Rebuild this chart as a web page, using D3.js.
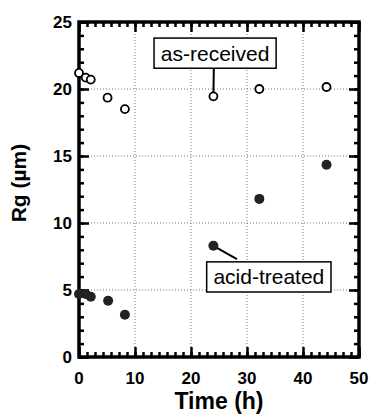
<!DOCTYPE html>
<html>
<head>
<meta charset="utf-8">
<script src="https://cdn.jsdelivr.net/npm/d3@7"></script>
<style>
  body { margin: 0; background: #fff; }
  svg { display: block; font-family: "Liberation Sans", Arial, sans-serif; }
  .axis path { display: none; }
  .axis line { stroke: #000; stroke-width: 2.5px; }
  .axis text { display: none; }
</style>
</head>
<body>
<svg width="372" height="415"></svg>
<script>
// as-received (open) and acid-treated (filled), time in h, Rg in um
var receivedTime = [0, 1.2, 2.1, 5.1, 8.2, 24, 32.2, 44.2];
var receivedRg   = [21.2, 20.85, 20.7, 19.35, 18.5, 19.45, 20.0, 20.15];
var treatedTime  = [0, 1.2, 2.1, 5.2, 8.2, 24, 32.2, 44.2];
var treatedRg    = [4.7, 4.7, 4.5, 4.2, 3.15, 8.3, 11.8, 14.35];
var xTicks = [0, 10, 20, 30, 40, 50];
var yTicks = [0, 5, 10, 15, 20, 25];

var svg = d3.select("svg"),
    margin = {top: 22, right: 13, bottom: 58, left: 79},
    width = +svg.attr("width") - margin.left - margin.right,
    height = +svg.attr("height") - margin.top - margin.bottom;

var x = d3.scaleLinear().domain([0, 50]).range([0, width]),
    y = d3.scaleLinear().domain([0, 25]).range([height, 0]);

var g = svg.append("g")
    .attr("transform", "translate(" + margin.left + "," + margin.top + ")");

// dotted grid at the inner majors
g.append("g").selectAll("line").data(xTicks.slice(1, -1)).enter().append("line")
    .attr("x1", function(d) { return x(d); }).attr("x2", function(d) { return x(d); })
    .attr("y1", 0).attr("y2", height)
    .attr("stroke", "#777").attr("stroke-width", 1).attr("stroke-dasharray", "1,2");
g.append("g").selectAll("line").data(yTicks.slice(1, -1)).enter().append("line")
    .attr("y1", function(d) { return y(d); }).attr("y2", function(d) { return y(d); })
    .attr("x1", 0).attr("x2", width)
    .attr("stroke", "#777").attr("stroke-width", 1).attr("stroke-dasharray", "1,2");

// inward ticks on all four sides (minor then major)
var xMinor = d3.range(0, 50.001, 10 / 7),
    yMinor = d3.range(0, 25.001, 1);

[[xMinor, 5], [xTicks, 10]].forEach(function(t) {
  g.append("g").attr("class", "axis").attr("transform", "translate(0," + height + ")")
      .call(d3.axisBottom(x).tickValues(t[0]).tickSize(-t[1]));
  g.append("g").attr("class", "axis")
      .call(d3.axisTop(x).tickValues(t[0]).tickSize(-t[1]));
});
[[yMinor, 5], [yTicks, 10]].forEach(function(t) {
  g.append("g").attr("class", "axis")
      .call(d3.axisLeft(y).tickValues(t[0]).tickSize(-t[1]));
  g.append("g").attr("class", "axis").attr("transform", "translate(" + width + ",0)")
      .call(d3.axisRight(y).tickValues(t[0]).tickSize(-t[1]));
});

g.append("rect")
    .attr("width", width).attr("height", height)
    .attr("fill", "none").attr("stroke", "#000").attr("stroke-width", 3.5);

// tick labels
g.selectAll(".xl").data(xTicks).enter().append("text")
    .attr("x", function(d) { return x(d); }).attr("y", height + 27)
    .attr("text-anchor", "middle")
    .style("font-size", "17px").style("font-weight", "bold")
    .text(function(d) { return d; });
g.selectAll(".yl").data(yTicks).enter().append("text")
    .attr("x", -7).attr("y", function(d) { return y(d) + 6; })
    .attr("text-anchor", "end")
    .style("font-size", "17px").style("font-weight", "bold")
    .text(function(d) { return d; });

// axis titles
svg.append("text")
    .attr("x", margin.left + width / 2).attr("y", 409)
    .attr("text-anchor", "middle")
    .style("font-size", "23px").style("font-weight", "bold")
    .text("Time (h)");
svg.append("text")
    .attr("transform", "translate(26," + 183 + ") rotate(-90)")
    .attr("text-anchor", "middle")
    .style("font-size", "21px").style("font-weight", "bold")
    .text("Rg (\u00b5m)");

// annotation leaders
g.append("line")
    .attr("x1", x(24.1)).attr("y1", y(22.2)).attr("x2", x(24)).attr("y2", y(receivedRg[5]))
    .attr("stroke", "#000").attr("stroke-width", 2);
g.append("line")
    .attr("x1", x(24)).attr("y1", y(treatedRg[5])).attr("x2", x(28.2)).attr("y2", y(7.3))
    .attr("stroke", "#000").attr("stroke-width", 2);

// points
g.selectAll(".recv").data(receivedTime).enter().append("circle")
    .attr("cx", function(d) { return x(d); })
    .attr("cy", function(d, i) { return y(receivedRg[i]); })
    .attr("r", 4).attr("fill", "#fff").attr("stroke", "#000").attr("stroke-width", 1.8);
g.selectAll(".trt").data(treatedTime).enter().append("circle")
    .attr("cx", function(d) { return x(d); })
    .attr("cy", function(d, i) { return y(treatedRg[i]); })
    .attr("r", 5).attr("fill", "#222");

// label boxes
function labelBox(t0, t1, v0, v1, txt) {
  g.append("rect")
      .attr("x", x(t0)).attr("y", y(v0))
      .attr("width", x(t1) - x(t0)).attr("height", y(v1) - y(v0))
      .attr("fill", "#fff").attr("stroke", "#000").attr("stroke-width", 1.5);
  g.append("text")
      .attr("x", (x(t0) + x(t1)) / 2).attr("y", (y(v0) + y(v1)) / 2 + 7.5)
      .attr("text-anchor", "middle")
      .style("font-size", "21px")
      .text(txt);
}
labelBox(13.4, 35.2, 23.8, 21.55, "as-received");
labelBox(22.8, 45.0, 7.1, 4.85, "acid-treated");
</script>
</body>
</html>
